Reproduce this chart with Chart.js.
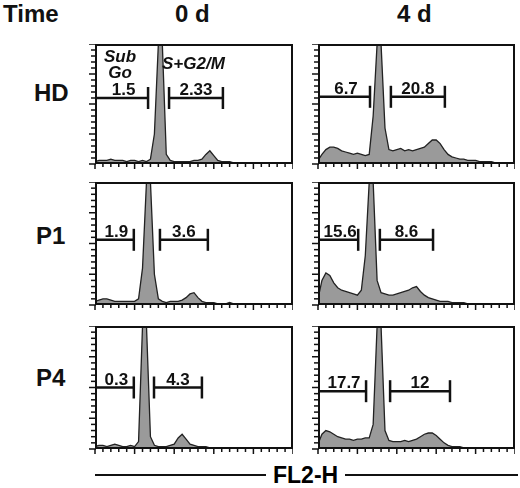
<!DOCTYPE html>
<html><head><meta charset="utf-8">
<script src="https://cdn.jsdelivr.net/npm/chart.js@4"></script>
<style>
body{margin:0;background:#fff;width:520px;height:488px;position:relative;font-family:"Liberation Sans",Arial,sans-serif;overflow:hidden}
.t{position:absolute;font-weight:bold;font-size:24px;color:#111;line-height:24px}
.p{position:absolute}
.it{position:absolute;font-style:italic;font-weight:bold;font-size:17px;color:#111;line-height:16px;text-align:center}
#axis{position:absolute;left:95px;top:474px;width:423px;height:2px;background:#111}
#fl{position:absolute;left:266px;top:463px;background:#fff;padding:0 7px;font-weight:bold;font-size:23px;line-height:24px}
</style></head><body>
<div class="t" style="left:3px;top:2px">Time</div>
<div class="t" style="left:175px;top:2px">0 d</div>
<div class="t" style="left:397px;top:2px">4 d</div>
<div class="t" style="left:34px;top:81px">HD</div>
<div class="t" style="left:36px;top:224px">P1</div>
<div class="t" style="left:36px;top:366px">P4</div>
<div id="axis"></div><div id="fl">FL2-H</div>
<script>
// histogram counts, 50 channels each
const hd0 = [2,3,3,3,4,3,3,3,2,3,3,2,3,2,4,25,100,100,8,3,2,2,2,2,2,3,3,4,8,11,7,3,2,2,2,1,1,1,1,1,1,1,1,1,1,1,1,1,1,1];
const p10 = [3,4,5,5,4,3,3,3,3,3,3,5,30,100,100,25,5,3,2,3,3,3,4,6,9,10,6,3,2,2,2,1,1,1,2,1,1,1,1,1,1,1,1,1,1,1,1,1,1,1];
const p40 = [2,3,3,2,3,4,3,2,2,3,2,6,100,100,10,3,2,2,2,3,4,9,12,8,4,3,2,2,2,1,1,1,1,1,1,1,1,1,1,1,1,1,1,1,1,1,1,1,1,1];
const hd4 = [3,8,12,14,14,13,11,10,9,8,9,8,7,8,40,100,100,30,12,11,12,13,11,12,11,12,13,14,17,20,20,17,12,8,6,5,4,4,3,3,3,2,2,2,2,1,1,1,1,1];
const p14 = [5,20,26,24,18,14,12,11,10,9,8,12,40,100,100,20,10,9,8,8,9,10,11,12,14,15,11,8,6,5,4,3,3,3,2,2,2,2,1,1,1,1,1,1,1,1,1,1,1,1];
const p44 = [4,12,15,14,12,10,9,8,8,7,8,8,9,9,20,100,100,15,7,6,6,6,7,6,7,8,10,12,13,13,11,8,5,3,2,2,2,1,1,1,1,1,1,1,1,1,1,1,1,1];
// gates in channels, gate level in counts, gate percentages
const leftGates  = [[0,13.4],[0,9.8],[0,9.8],[0,13.2],[0,10.2],[0,12.2]];
const rightGates = [[18.7,32.3],[16.4,28.5],[14.9,27],[18.5,32.2],[15.7,29.2],[18.3,33.5]];
const gateLevel  = [55,53,50,56,53,47];
const leftPct  = ["1.5","1.9","0.3","6.7","15.6","17.7"];
const rightPct = ["2.33","3.6","4.3","20.8","8.6","12"];
const series = [hd0,p10,p40,hd4,p14,p44];
const boxes = [[95,44,198,120],[95,182,198,123],[95,326,198,123],[318,44,197,120],[318,182,197,123],[318,326,197,123]];

const framePlugin = {
  id:'frame',
  afterDatasetsDraw(c){
    const a=c.chartArea, ctx=c.ctx, xs=c.scales.x, ys=c.scales.y, i=c.options.plugins.frame.idx;
    ctx.save();
    ctx.strokeStyle='#111'; ctx.lineWidth=2;
    ctx.strokeRect(a.left+1,a.top+1,a.right-a.left-2,a.bottom-a.top-2);
    ctx.lineWidth=1.5;
    for(let k=0;k<=50;k+=2){const x=xs.getPixelForValue(k);const l=k%10===0?5:3;ctx.beginPath();ctx.moveTo(x,a.bottom);ctx.lineTo(x,a.bottom+l);ctx.stroke();}
    for(let k=0;k<=100;k+=5){const y=ys.getPixelForValue(k);const l=k%25===0?6:4;ctx.beginPath();ctx.moveTo(a.left-l,y);ctx.lineTo(a.left+1,y);ctx.stroke();}
    ctx.lineWidth=2.5;
    const y=ys.getPixelForValue(gateLevel[i]);
    [[leftGates[i],leftPct[i]],[rightGates[i],rightPct[i]]].forEach(([g,t])=>{
      const x0=xs.getPixelForValue(g[0]), x1=xs.getPixelForValue(g[1]);
      ctx.beginPath();ctx.moveTo(x0,y);ctx.lineTo(x1,y);ctx.stroke();
      ctx.beginPath();ctx.moveTo(x1,y-11);ctx.lineTo(x1,y+11);ctx.stroke();
      if(g[0]>0){ctx.beginPath();ctx.moveTo(x0,y-11);ctx.lineTo(x0,y+11);ctx.stroke();}
      ctx.fillStyle='#111';ctx.font='bold 17px "Liberation Sans",Arial';ctx.textAlign='center';ctx.textBaseline='bottom';
      ctx.fillText(t,(x0+x1)/2+(g[0]>0?0:2),y+1);
    });
    ctx.restore();
  }
};

series.forEach((vals,i)=>{
  const b=boxes[i];
  const cv=document.createElement('canvas');
  const d=document.createElement('div');d.className='p';
  d.style.cssText=`left:${b[0]-6}px;top:${b[1]}px;width:${b[2]+6}px;height:${b[3]+6}px`;
  d.appendChild(cv);document.body.appendChild(d);
  new Chart(cv,{type:'line',
    data:{datasets:[{data:vals.map((v,k)=>({x:k,y:v})),fill:'origin',
      backgroundColor:'#9a9a9a',borderColor:'#222',borderWidth:1.3,pointRadius:0}]},
    options:{animation:false,responsive:true,maintainAspectRatio:false,
      layout:{padding:{left:6,bottom:6}},
      scales:{x:{type:'linear',min:0,max:50,display:false},y:{min:0,max:100,display:false}},
      plugins:{legend:{display:false},tooltip:{enabled:false},frame:{idx:i}}},
    plugins:[framePlugin]});
});
</script>
<div class="it" style="left:104px;top:49px">Sub<br>Go</div>
<div class="it" style="left:162px;top:56px">S+G2/M</div>
</body></html>
